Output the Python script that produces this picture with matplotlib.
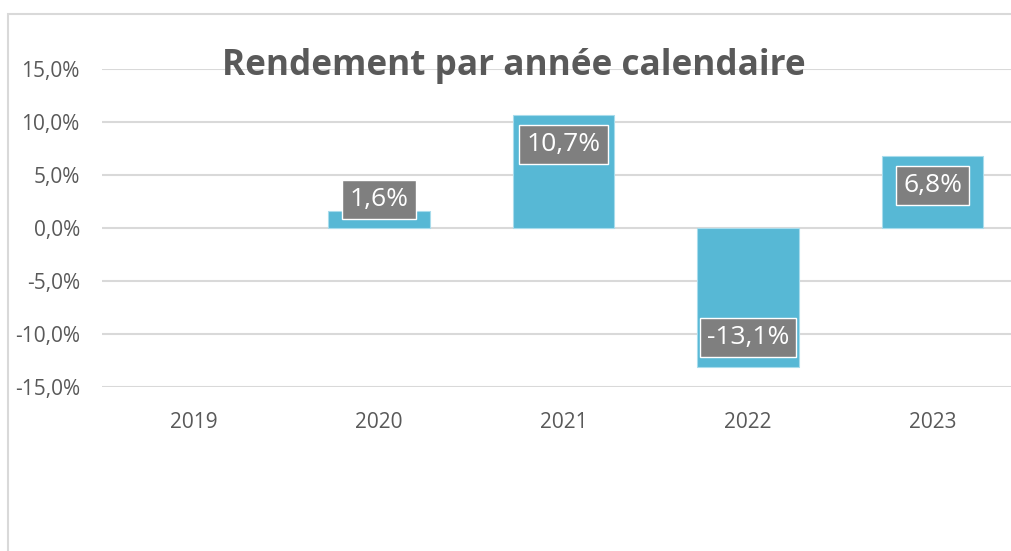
import matplotlib.pyplot as plt
from matplotlib.patches import Rectangle

years = ["2019", "2020", "2021", "2022", "2023"]
returns = [None, 1.6, 10.7, -13.1, 6.8]
yticks = [-15, -10, -5, 0, 5, 10, 15]

W, H = 1011, 551
plt.rcParams['font.family'] = ['Open Sans', 'DejaVu Sans']

fig = plt.figure(figsize=(W / 100, H / 100), dpi=100)

# outer chart frame (cropped on the right and bottom)
fig.patches.append(Rectangle((8 / W, -0.2), 1.2, 1.2 - 14 / H, transform=fig.transFigure,
                             fill=False, edgecolor="#D9D9D9", linewidth=1.5))

# axes extends past the right edge, like the cropped reference
ax = fig.add_axes([102 / W, 1 - 387 / H, 923 / W, 318 / H])

xs = list(range(len(years)))
bx = [x for x, v in zip(xs, returns) if v is not None]
bv = [v for v in returns if v is not None]
ax.bar(bx, bv, width=0.55, color="#57B8D5", edgecolor="#A8DCEC", linewidth=0.8, zorder=3)

# data labels, inside end of each bar
for x, v in zip(bx, bv):
    if v >= 0:
        y = max(v - 2.8, 2.7)
    else:
        y = v + 2.8
    ax.text(x, y, f"{v:.1f}%".replace(".", ","), ha="center", va="center",
            fontsize=19, color="white", zorder=5,
            bbox=dict(boxstyle="square,pad=0.27", facecolor="#7F7F7F", edgecolor="white", linewidth=1))

ax.set_xlim(-0.5, len(years) - 0.5)
ax.set_ylim(-15, 15)
ax.set_yticks(yticks)
ax.set_yticklabels([f"{t:.1f}%".replace(".", ",") for t in yticks])
ax.set_xticks(xs)
ax.set_xticklabels(years)
ax.tick_params(axis="y", length=0, pad=16, labelsize=15, labelcolor="#595959")
ax.tick_params(axis="x", length=0, pad=18, labelsize=15, labelcolor="#595959")
ax.grid(axis="y", color="#D9D9D9", linewidth=1.5, zorder=0)
ax.set_axisbelow(True)
for s in ax.spines.values():
    s.set_visible(False)

fig.text(514 / W, 1 - 75 / H, "Rendement par année calendaire", ha="center", va="baseline",
         fontsize=25.3, fontweight="bold", color="#595959")

fig.savefig("out.png", dpi=100)
